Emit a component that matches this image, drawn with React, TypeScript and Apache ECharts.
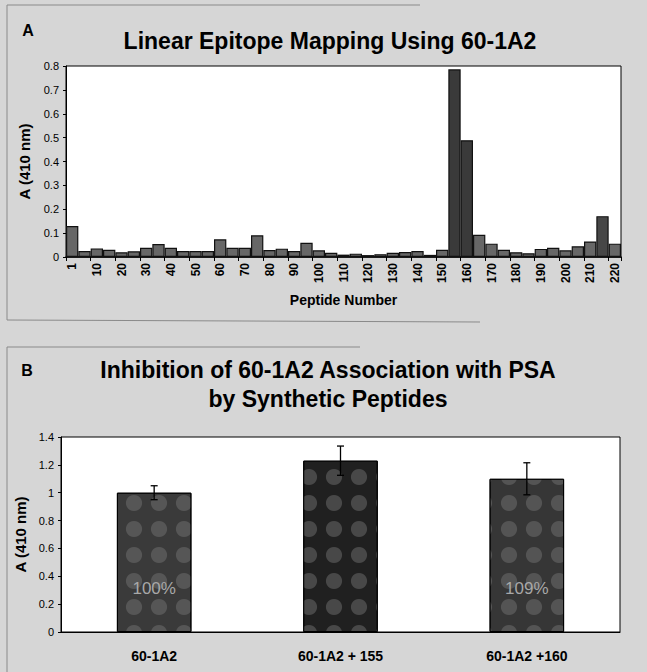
import React, { useEffect, useRef } from "react";
import * as echarts from "echarts";

// ---------- Panel A data ----------
const peptideNumbers = [
  "1", "5", "10", "15", "20", "25", "30", "35", "40", "45", "50", "55", "60", "65", "70",
  "75", "80", "85", "90", "95", "100", "105", "110", "115", "120", "125", "130", "135", "140", "145",
  "150", "155", "160", "165", "170", "175", "180", "185", "190", "195", "200", "205", "210", "215", "220",
];
const absorbanceA = [
  0.13, 0.025, 0.036, 0.03, 0.02, 0.024, 0.039, 0.054, 0.039, 0.025, 0.025, 0.025, 0.074, 0.039, 0.039,
  0.091, 0.029, 0.035, 0.025, 0.06, 0.028, 0.018, 0.01, 0.014, 0.008, 0.012, 0.018, 0.021, 0.025, 0.009,
  0.03, 0.786, 0.489, 0.093, 0.056, 0.03, 0.02, 0.016, 0.034, 0.039, 0.028, 0.045, 0.065, 0.171, 0.056,
];

// ---------- Panel B data ----------
const inhibitionCategories = ["60-1A2", "60-1A2 + 155", "60-1A2 +160"];
const inhibitionMeans = [1.0, 1.23, 1.1];
const inhibitionErrors = [0.05, 0.105, 0.115];
const inhibitionLabels = ["100%", "", "109%"];

// ---------- Text ----------
const titleA = "Linear Epitope Mapping Using 60-1A2";
const titleB1 = "Inhibition of 60-1A2 Association with PSA";
const titleB2 = "by Synthetic Peptides";
const yAxisName = "A (410 nm)";
const xAxisNameA = "Peptide Number";

const FONT = '"Liberation Sans", Arial, Helvetica, sans-serif';

export default function App() {
  const ref = useRef<HTMLDivElement>(null);

  useEffect(() => {
    document.body.style.margin = "0";
    if (!ref.current) return;
    const chart = echarts.init(ref.current, null, { renderer: "svg" });

    const barColorsB = ["#3a3a3a", "#202020", "#363636"];
    const errorData = inhibitionMeans.map((m, i) => [i, m - inhibitionErrors[i], m + inhibitionErrors[i]]);
    const spotDecal = {
      symbol: "circle",
      symbolSize: 0.9,
      color: "rgba(120,120,120,0.45)",
      dashArrayX: [[18, 7]],
      dashArrayY: [18, 8],
      rotation: 0,
    };

    const option: any = {
      animation: false,
      backgroundColor: "#d6d6d6",
      textStyle: { fontFamily: FONT },
      grid: [
        {
          left: 66, right: 26, top: 66, height: 191,
          show: true, backgroundColor: "#ffffff", borderColor: "#000", borderWidth: 1,
        },
        {
          left: 61, right: 27, top: 437, height: 195,
          show: true, backgroundColor: "#ffffff", borderColor: "#000", borderWidth: 1,
        },
      ],
      xAxis: [
        {
          type: "category",
          gridIndex: 0,
          data: peptideNumbers,
          boundaryGap: true,
          axisLine: { lineStyle: { color: "#000", width: 1.5 } },
          axisTick: { show: true, interval: 1, length: 4, lineStyle: { color: "#000" } },
          axisLabel: {
            interval: 1, rotate: 90, fontSize: 12, fontWeight: "bold", color: "#000",
            fontFamily: FONT, margin: 6,
          },
          name: xAxisNameA,
          nameLocation: "middle",
          nameGap: 36,
          nameTextStyle: { fontSize: 14, fontWeight: "bold", color: "#000", fontFamily: FONT },
        },
        {
          type: "category",
          gridIndex: 1,
          data: inhibitionCategories,
          axisLine: { lineStyle: { color: "#000", width: 1 } },
          axisTick: { show: false },
          axisLabel: { fontSize: 14, fontWeight: "bold", color: "#000", fontFamily: FONT, margin: 17 },
        },
      ],
      yAxis: [
        {
          type: "value",
          gridIndex: 0,
          min: 0, max: 0.8, interval: 0.1,
          axisLine: { show: true, lineStyle: { color: "#000" } },
          axisTick: { show: true, length: 3, lineStyle: { color: "#000" } },
          axisLabel: { fontSize: 11, color: "#000", fontFamily: FONT, margin: 7 },
          splitLine: { show: false },
          name: yAxisName,
          nameLocation: "middle",
          nameGap: 34,
          nameTextStyle: { fontSize: 15, fontWeight: "bold", color: "#000", fontFamily: FONT },
        },
        {
          type: "value",
          gridIndex: 1,
          min: 0, max: 1.4, interval: 0.2,
          axisLine: { show: true, lineStyle: { color: "#000" } },
          axisTick: { show: true, length: 3, lineStyle: { color: "#000" } },
          axisLabel: { fontSize: 11, color: "#000", fontFamily: FONT, margin: 7 },
          splitLine: { show: false },
          name: yAxisName,
          nameLocation: "middle",
          nameGap: 30,
          nameTextStyle: { fontSize: 15, fontWeight: "bold", color: "#000", fontFamily: FONT },
        },
      ],
      series: [
        {
          type: "bar",
          xAxisIndex: 0,
          yAxisIndex: 0,
          data: absorbanceA,
          barCategoryGap: "0%",
          itemStyle: {
            color: (p: any) => (p.value > 0.3 ? "#3a3a3a" : p.value > 0.15 ? "#474747" : "#676767"),
            borderColor: "#111",
            borderWidth: 1.2,
          },
        },
        {
          type: "bar",
          xAxisIndex: 1,
          yAxisIndex: 1,
          data: inhibitionMeans,
          barWidth: "40%",
          itemStyle: {
            color: (p: any) => barColorsB[p.dataIndex],
            borderColor: "#000",
            borderWidth: 1,
            decal: spotDecal,
          },
          label: {
            show: true,
            position: "insideBottom",
            distance: 35,
            formatter: (p: any) => inhibitionLabels[p.dataIndex],
            fontSize: 17,
            color: "#a8a8a8",
            fontFamily: FONT,
          },
        },
        {
          type: "custom",
          xAxisIndex: 1,
          yAxisIndex: 1,
          data: errorData,
          z: 10,
          renderItem: (params: any, api: any) => {
            const x = api.value(0);
            const lo = api.coord([x, api.value(1)]);
            const hi = api.coord([x, api.value(2)]);
            const half = 3.5;
            const style = { stroke: "#000", lineWidth: 1.3 };
            return {
              type: "group",
              children: [
                { type: "line", shape: { x1: hi[0], y1: hi[1], x2: lo[0], y2: lo[1] }, style },
                { type: "line", shape: { x1: hi[0] - half, y1: hi[1], x2: hi[0] + half, y2: hi[1] }, style },
                { type: "line", shape: { x1: lo[0] - half, y1: lo[1], x2: lo[0] + half, y2: lo[1] }, style },
              ],
            };
          },
        },
      ],
      graphic: [
        // panel frames (scan borders)
        { type: "polyline", shape: { points: [[7, 320], [7, 5], [420, 5]] }, style: { stroke: "#8a8a8a", lineWidth: 1, fill: null } },
        { type: "line", shape: { x1: 7, y1: 320, x2: 480, y2: 322 }, style: { stroke: "#8a8a8a", lineWidth: 1 } },
        { type: "polyline", shape: { points: [[7, 672], [7, 347], [360, 347]] }, style: { stroke: "#8a8a8a", lineWidth: 1, fill: null } },
        // panel letters
        { type: "text", x: 28, y: 30, style: { text: "A", font: `bold 16px ${FONT}`, fill: "#000", textAlign: "center", verticalAlign: "middle" } },
        { type: "text", x: 27, y: 370, style: { text: "B", font: `bold 16px ${FONT}`, fill: "#000", textAlign: "center", verticalAlign: "middle" } },
        // titles
        { type: "text", x: 330, y: 41, style: { text: titleA, font: `bold 23px ${FONT}`, fill: "#000", textAlign: "center", verticalAlign: "middle" } },
        { type: "text", x: 328, y: 370, style: { text: titleB1, font: `bold 23px ${FONT}`, fill: "#000", textAlign: "center", verticalAlign: "middle" } },
        { type: "text", x: 328, y: 399, style: { text: titleB2, font: `bold 23px ${FONT}`, fill: "#000", textAlign: "center", verticalAlign: "middle" } },
      ],
    };

    chart.setOption(option);
    return () => chart.dispose();
  }, []);

  return <div ref={ref} style={{ width: 647, height: 672 }} />;
}
